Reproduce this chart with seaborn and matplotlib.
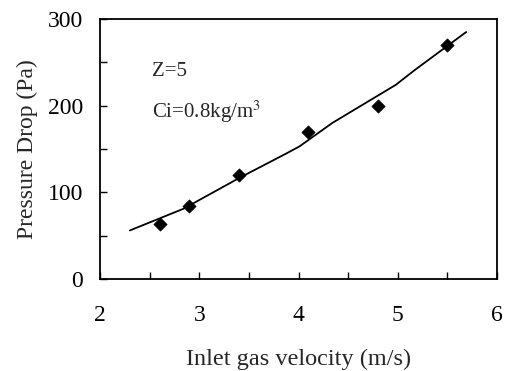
import matplotlib
matplotlib.use("Agg")
import matplotlib.pyplot as plt
import seaborn as sns
import pandas as pd
from matplotlib.ticker import MultipleLocator

# measured points
vel_pts = [2.6, 2.9, 3.4, 4.1, 4.8, 5.5]
dp_pts = [63, 84, 120, 170, 200, 270]

# model curve
vel_line = [2.30, 2.84, 3.41, 3.88, 4.01, 4.34, 4.98, 5.17, 5.69]
dp_line = [56, 81, 117, 145, 153, 180, 224, 241, 285]

sns.set_style("ticks")
plt.rcParams['font.family'] = ['Liberation Serif', 'DejaVu Serif']
plt.rcParams['mathtext.fontset'] = 'stix'

fig = plt.figure(figsize=(5.11, 3.71), dpi=100)
ax = fig.add_axes([100/511, 1-279/371, 397/511, 260/371])

df_line = pd.DataFrame({"v": vel_line, "dp": dp_line})
df_pts = pd.DataFrame({"v": vel_pts, "dp": dp_pts})
sns.lineplot(data=df_line, x="v", y="dp", ax=ax, color="black", lw=1.3, sort=False)
sns.scatterplot(data=df_pts, x="v", y="dp", ax=ax, marker="D", color="black", s=45, edgecolor="black", zorder=5)

ax.set_xlim(2, 6)
ax.set_ylim(0, 300)
ax.xaxis.set_major_locator(MultipleLocator(1))
ax.xaxis.set_minor_locator(MultipleLocator(0.5))
ax.yaxis.set_major_locator(MultipleLocator(100))
ax.yaxis.set_minor_locator(MultipleLocator(50))
ax.tick_params(axis='both', which='both', direction='in', length=5, width=1, color='black',
               labelsize=17, labelcolor='black')
ax.tick_params(axis='x', which='both', pad=19, top=False)
ax.tick_params(axis='y', which='both', pad=12, right=False)
ax.tick_params(axis='y', which='minor', left=True)
ax.tick_params(axis='x', which='minor', bottom=True)
for s in ax.spines.values():
    s.set_linewidth(1.3)
    s.set_color('black')

ax.set_xlabel("Inlet gas velocity (m/s)", fontsize=17.5, labelpad=16)
ax.set_ylabel("Pressure Drop (Pa)", fontsize=17, labelpad=7)

ax.text(2.52, 240, "Z=5", fontsize=15, va='center')
ax.text(2.52, 193, "Ci=0.8kg/m$^3$", fontsize=15, va='center')

fig.savefig("out.png", dpi=100)
